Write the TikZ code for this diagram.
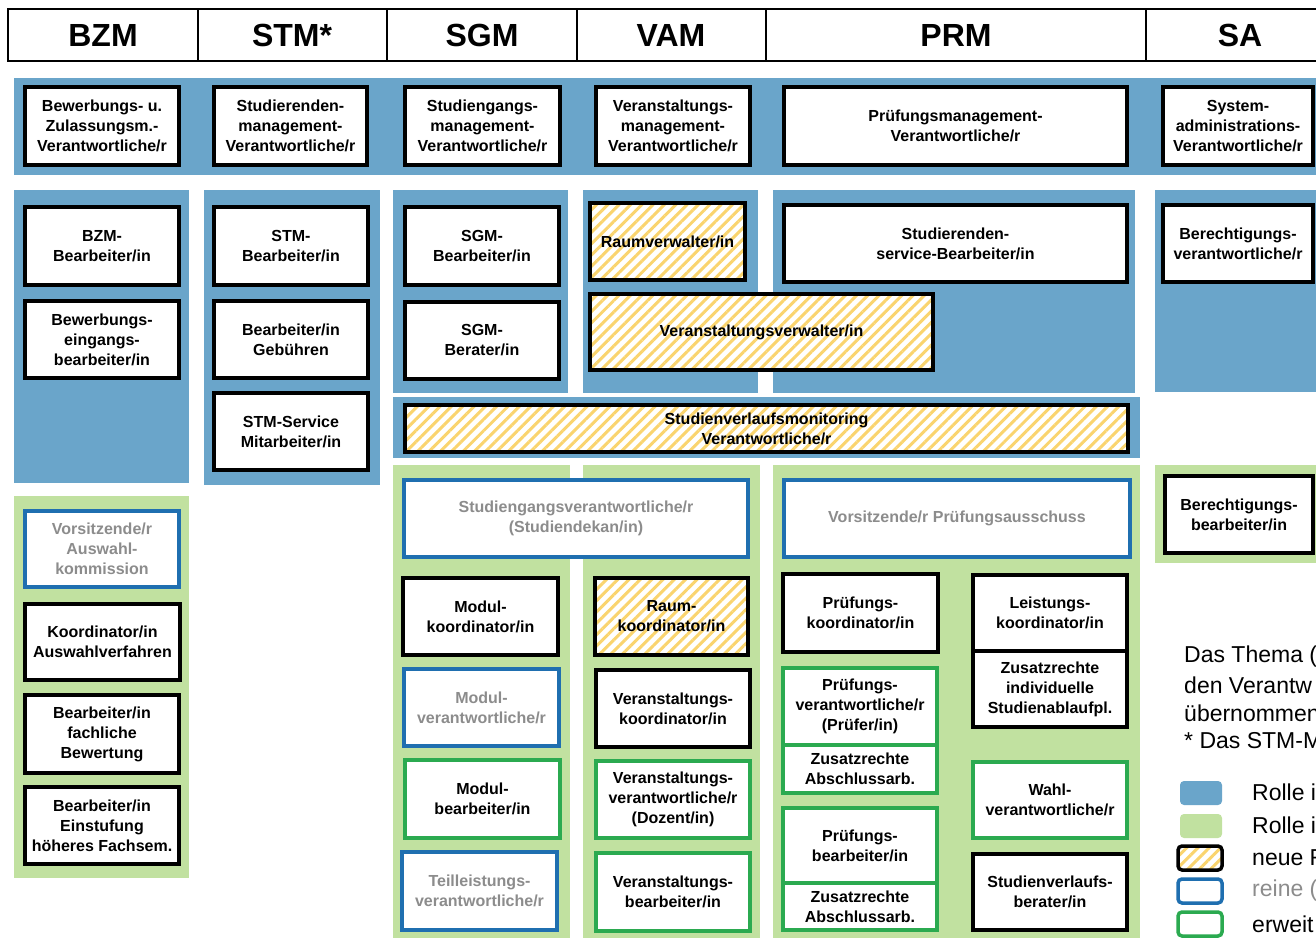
\documentclass[tikz,border=0pt]{standalone}
\usepackage{fontspec}
\setmainfont{Liberation Sans}
\usetikzlibrary{patterns.meta}
\definecolor{panelblue}{RGB}{106,165,202}
\definecolor{panelgreen}{RGB}{193,225,160}
\definecolor{borderblue}{RGB}{31,111,176}
\definecolor{bordergreen}{RGB}{43,170,80}
\definecolor{graytext}{RGB}{140,140,140}
\definecolor{hatchyellow}{RGB}{250,212,110}
\newcommand\rolebx[7]{\node[#6, minimum width={(#4)-(#2)}, minimum height={(#5)-(#3)}] (#1) at ({((#2)+(#4))/2},{((#3)+(#5))/2}) {#7};}
\tikzset{
  boxbase/.style={line width=4pt, align=center, inner sep=0pt, font=\bfseries\fontsize{16}{20}\selectfont},
  rolebox/.style={boxbase, draw=black, fill=white},
  newbox/.style={boxbase, draw=black, preaction={fill=white}, pattern={Lines[angle=45,distance=8pt,line width=3pt]}, pattern color=hatchyellow},
  bluebox/.style={boxbase, line width=3.5pt, draw=borderblue, fill=white, text=graytext},
  greenbox/.style={boxbase, line width=3.5pt, draw=bordergreen, fill=white},
  hdr/.style={font=\bfseries\fontsize{32}{36}\selectfont, inner sep=0pt},
  legtext/.style={font=\fontsize{23}{28}\selectfont, inner sep=0pt, anchor=west},
  swatch/.style={rounded corners=4pt},
}
\begin{document}
\begin{tikzpicture}[x=1pt,y=-1pt]
\useasboundingbox (0,0) rectangle (1316,937);
\clip (0,0) rectangle (1316,937);
\fill[white] (0,0) rectangle (1316,937);
% header
\draw[line width=1.5pt] (8,9) rectangle (1340,61);
\foreach \xx in {198,387,577,766,1146} \draw[line width=1.5pt] (\xx,9) -- (\xx,61);
\node[hdr] (hBZM) at (103,35) {BZM};
\node[hdr] (hSTM) at (292,35) {STM*};
\node[hdr] (hSGM) at (482,35) {SGM};
\node[hdr] (hVAM) at (671,35) {VAM};
\node[hdr] (hPRM) at (956,35) {PRM};
\node[hdr] (hSA) at (1240,35) {SA};
% panels
\fill[panelblue] (14,78) rectangle (1340,175);
\fill[panelblue] (14,190) rectangle (189,483);
\fill[panelblue] (204,190) rectangle (380,485);
\fill[panelblue] (393,190) rectangle (568,393);
\fill[panelblue] (583,190) rectangle (758,393);
\fill[panelblue] (773,190) rectangle (1135,393);
\fill[panelblue] (1155,190) rectangle (1340,392);
\fill[panelblue] (393,397) rectangle (1140,458);
\fill[panelgreen] (14,496) rectangle (189,878);
\fill[panelgreen] (393,465) rectangle (570,940);
\fill[panelgreen] (583,465) rectangle (760,940);
\fill[panelgreen] (773,465) rectangle (1140,940);
\fill[panelgreen] (1155,465) rectangle (1340,563);
% row 1
\rolebx{r1a}{25}{87}{179}{165}{rolebox}{Bewerbungs- u.\\Zulassungsm.-\\Verantwortliche/r}
\rolebx{r1b}{214}{87}{367}{165}{rolebox}{Studierenden-\\management-\\Verantwortliche/r}
\rolebx{r1c}{405}{87}{560}{165}{rolebox}{Studiengangs-\\management-\\Verantwortliche/r}
\rolebx{r1d}{596}{87}{750}{165}{rolebox}{Veranstaltungs-\\management-\\Verantwortliche/r}
\rolebx{r1e}{784}{87}{1127}{165}{rolebox}{Prüfungsmanagement-\\Verantwortliche/r}
\rolebx{r1f}{1163}{87}{1313}{165}{rolebox}{System-\\administrations-\\Verantwortliche/r}
% row 2
\rolebx{bzmA}{25}{207}{179}{285}{rolebox}{BZM-\\Bearbeiter/in}
\rolebx{bzmB}{25}{301}{179}{378}{rolebox}{Bewerbungs-\\eingangs-\\bearbeiter/in}
\rolebx{stmA}{214}{207}{368}{285}{rolebox}{STM-\\Bearbeiter/in}
\rolebx{stmB}{214}{301}{368}{378}{rolebox}{Bearbeiter/in\\Gebühren}
\rolebx{stmC}{214}{393}{368}{470}{rolebox}{STM-Service\\Mitarbeiter/in}
\rolebx{sgmA}{405}{207}{559}{285}{rolebox}{SGM-\\Bearbeiter/in}
\rolebx{sgmB}{405}{302}{559}{379}{rolebox}{SGM-\\Berater/in}
\rolebx{vamA}{590}{203}{745}{280}{newbox}{Raumverwalter/in}
\rolebx{vamB}{590}{294}{933}{370}{newbox}{Veranstaltungsverwalter/in}
\rolebx{prmA}{784}{205}{1127}{282}{rolebox}{Studierenden-\\service-Bearbeiter/in}
\rolebx{saA}{1163}{205}{1313}{282}{rolebox}{Berechtigungs-\\verantwortliche/r}
\rolebx{svm}{405}{405}{1128}{452}{newbox}{Studienverlaufsmonitoring\\Verantwortliche/r}
% row 3 BZM
\rolebx{bzmC}{25}{511}{179}{587}{bluebox}{Vorsitzende/r\\Auswahl-\\kommission}
\rolebx{bzmD}{25}{604}{180}{680}{rolebox}{Koordinator/in\\Auswahlverfahren}
\rolebx{bzmE}{25}{695}{179}{773}{rolebox}{Bearbeiter/in\\fachliche\\Bewertung}
\rolebx{bzmF}{25}{787}{179}{864}{rolebox}{Bearbeiter/in\\Einstufung\\höheres Fachsem.}
% SGM / VAM
\rolebx{sgv}{404}{480}{748}{557}{bluebox}{Studiengangsverantwortliche/r\\(Studiendekan/in)}
\rolebx{mk}{403}{578}{558}{655}{rolebox}{Modul-\\koordinator/in}
\rolebx{mv}{404}{669}{559}{746}{bluebox}{Modul-\\verantwortliche/r}
\rolebx{mb}{405}{760}{560}{838}{greenbox}{Modul-\\bearbeiter/in}
\rolebx{tv}{402}{852}{557}{930}{bluebox}{Teilleistungs-\\verantwortliche/r}
\rolebx{rk}{595}{578}{748}{655}{newbox}{Raum-\\koordinator/in}
\rolebx{vk}{596}{670}{750}{747}{rolebox}{Veranstaltungs-\\koordinator/in}
\rolebx{vv}{596}{761}{750}{838}{greenbox}{Veranstaltungs-\\verantwortliche/r\\(Dozent/in)}
\rolebx{vb}{596}{853}{750}{931}{greenbox}{Veranstaltungs-\\bearbeiter/in}
% PRM
\rolebx{pa}{784}{480}{1130}{557}{bluebox}{Vorsitzende/r Prüfungsausschuss}
\rolebx{pk}{783}{574}{938}{652}{rolebox}{Prüfungs-\\koordinator/in}
\rolebx{pv}{783}{668}{937}{745}{greenbox}{Prüfungs-\\verantwortliche/r\\(Prüfer/in)}
\rolebx{pz1}{783}{745}{937}{793}{greenbox}{Zusatzrechte\\Abschlussarb.}
\rolebx{pb}{783}{808}{937}{883}{greenbox}{Prüfungs-\\bearbeiter/in}
\rolebx{pz2}{783}{883}{937}{930}{greenbox}{Zusatzrechte\\Abschlussarb.}
\rolebx{lk}{973}{575}{1127}{651}{rolebox}{Leistungs-\\koordinator/in}
\rolebx{zi}{973}{651}{1127}{727}{rolebox}{Zusatzrechte\\individuelle\\Studienablaufpl.}
\rolebx{wv}{973}{762}{1127}{838}{greenbox}{Wahl-\\verantwortliche/r}
\rolebx{sb}{973}{854}{1127}{930}{rolebox}{Studienverlaufs-\\berater/in}
% SA
\rolebx{saB}{1165}{476}{1313}{553}{rolebox}{Berechtigungs-\\bearbeiter/in}
% legend
\node[legtext] (t1) at (1184,657) {Das Thema (};
\node[legtext] (t2) at (1184,685) {den Verantw};
\node[legtext] (t3) at (1184,713) {übernommen};
\node[legtext] (t4) at (1184,741) {* Das STM-M};
\fill[panelblue, swatch] (1180,781) rectangle (1222,805);
\fill[panelgreen, swatch] (1180,814) rectangle (1222,838);
\draw[line width=3.5pt, swatch, preaction={fill=white}, pattern={Lines[angle=45,distance=8pt,line width=3pt]}, pattern color=hatchyellow] (1178,846) rectangle (1222,870);
\draw[line width=3.5pt, swatch, draw=borderblue, fill=white] (1178,879) rectangle (1222,903);
\draw[line width=3.5pt, swatch, draw=bordergreen, fill=white] (1178,912) rectangle (1222,936);
\node[legtext] (s1) at (1252,792) {Rolle i};
\node[legtext] (s2) at (1252,825) {Rolle i};
\node[legtext] (s3) at (1252,858) {neue R};
\node[legtext, text=graytext] (s4) at (1252,891) {reine (};
\node[legtext] (s5) at (1252,924) {erweit};
\end{tikzpicture}
\end{document}
